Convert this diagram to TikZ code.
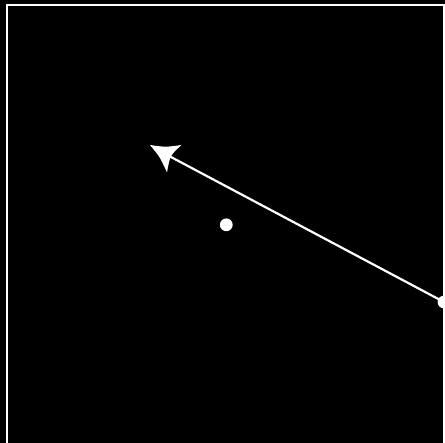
\documentclass[tikz,border=0pt]{standalone}
\begin{document}
\begin{tikzpicture}[x=1pt,y=-1pt,
  dotnode/.style={circle,fill=white,draw=none,inner sep=0pt,minimum size=12.8pt},
  linkline/.style={draw=white,line width=2.2pt},
  headfill/.style={fill=white,draw=none}]
\fill[black] (0,0) rectangle (445,443);
\useasboundingbox (0,0) rectangle (445,443);
\begin{scope}
\clip (0,0) rectangle (445,443);
\draw[white,line width=2pt] (7.3,5.3) rectangle (444.3,450);
\node[dotnode] (c) at (226.3,224.8) {};
\node[dotnode] (p) at (444,302) {};
\coordinate (hb) at (170,156.5);
\draw[linkline] (p.center) -- (hb);
\coordinate (tip) at (150,145);
\coordinate (b1) at (181.5,145);
\coordinate (b2) at (167,172.5);
\fill[headfill] (tip) .. controls (165.6,147.2) .. (b1)
  .. controls (170,155.5) .. (b2)
  .. controls (160.2,157.4) .. (tip) -- cycle;
\end{scope}
\end{tikzpicture}
\end{document}
